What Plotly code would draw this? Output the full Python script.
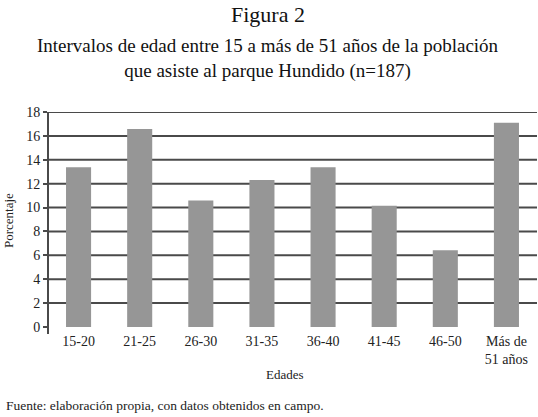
import plotly.graph_objects as go

categories = ["15-20", "21-25", "26-30", "31-35", "36-40", "41-45", "46-50", "Más de<br>51 años"]
values = [13.37, 16.58, 10.6, 12.3, 13.37, 10.16, 6.42, 17.1]
y_ticks = [0, 2, 4, 6, 8, 10, 12, 14, 16, 18]

FONT = "Liberation Serif"
W, H = 538, 417
L, R, T, B = 48, 1, 112, 90
PW, PH = W - L - R, H - T - B
GRID = "#4a4a4a"

fig = go.Figure()
fig.add_trace(go.Bar(x=categories, y=values, marker=dict(color="#969696", line=dict(width=0)),
                     width=0.41))

fig.update_layout(
    width=W, height=H,
    margin=dict(l=L, r=R, t=T, b=B, autoexpand=False),
    paper_bgcolor="white", plot_bgcolor="white",
    showlegend=False,
    font=dict(family=FONT, color="#222222", size=12),
    xaxis=dict(showgrid=False, showline=False, zeroline=False, ticks="", automargin=False,
               tickfont=dict(family=FONT, size=14, color="#222222"), ticklabelstandoff=4,
               range=[-0.5, 7.5]),
    yaxis=dict(range=[0, 18], tickvals=y_ticks, showgrid=False,
               zeroline=False, showline=False, automargin=False,
               ticks="outside", ticklen=4, tickcolor=GRID, tickwidth=2,
               tickfont=dict(family=FONT, size=14, color="#222222")),
)

# horizontal grid lines (not at zero)
for t in y_ticks[1:]:
    fig.add_shape(type="line", xref="paper", yref="y", x0=0, x1=1, y0=t, y1=t,
                  line=dict(color=GRID, width=2), layer="below")
# y axis line extending slightly below zero
fig.add_shape(type="line", xref="paper", yref="paper", x0=0, x1=0, y0=-7 / PH, y1=1,
              line=dict(color=GRID, width=2), layer="above")


def py(pix_y):
    return (H - B - pix_y) / PH


def px(pix_x):
    return (pix_x - L) / PW


fig.add_annotation(text="Figura 2", xref="paper", yref="paper", x=px(268), y=py(14),
                   xanchor="center", yanchor="middle",
                   showarrow=False, font=dict(family=FONT, size=22, color="#111111"))
fig.add_annotation(text="Intervalos de edad entre 15 a más de 51 años de la población<br>que asiste al parque Hundido (n=187)",
                   xref="paper", yref="paper", x=px(268), y=py(59), xanchor="center", yanchor="middle",
                   showarrow=False, font=dict(family=FONT, size=19, color="#111111"), align="center")
fig.add_annotation(text="Porcentaje", xref="paper", yref="paper", x=px(8), y=py(221),
                   xanchor="center", yanchor="middle",
                   textangle=-90, showarrow=False, font=dict(family=FONT, size=13, color="#222222"))
fig.add_annotation(text="Edades", xref="paper", yref="paper", x=px(285), y=py(374),
                   xanchor="center", yanchor="middle",
                   showarrow=False, font=dict(family=FONT, size=13, color="#222222"))
fig.add_annotation(text="Fuente: elaboración propia, con datos obtenidos en campo.", xref="paper", yref="paper",
                   x=px(4), y=py(405), xanchor="left", yanchor="middle", showarrow=False,
                   font=dict(family=FONT, size=13.5, color="#222222"))

fig.write_html("out.html", config={"displayModeBar": False},
               post_script="document.body.style.margin='0';")
